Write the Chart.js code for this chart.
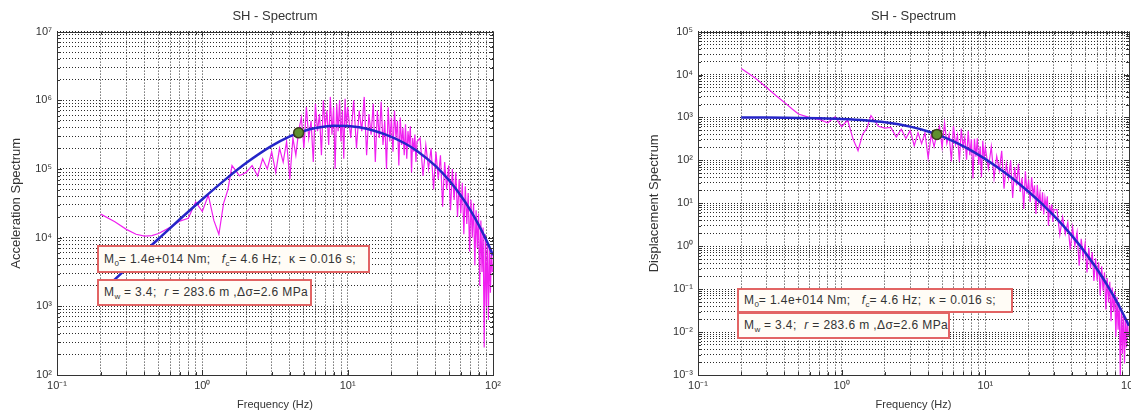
<!DOCTYPE html>
<html>
<head>
<meta charset="utf-8">
<title>SH - Spectrum</title>
<script src="https://cdn.jsdelivr.net/npm/chart.js@4/dist/chart.umd.min.js"></script>
<style>
  html, body { margin: 0; padding: 0; background: #fff; overflow: hidden; width: 1131px; height: 414px; }
  canvas { position: absolute; top: 0; }
  #acc-chart { left: 0; }
  #disp-chart { left: 565px; }
  .note {
    position: absolute;
    box-sizing: border-box;
    background: #fffcf6;
    border: 2px solid #e26464;
    font-family: "Liberation Sans", Arial, sans-serif;
    font-size: 12px;
    letter-spacing: 0.4px;
    color: #333;
    padding-left: 5px;
    white-space: nowrap;
    z-index: 2;
  }
  .note sub { font-size: 8px; letter-spacing: 0; }
</style>
</head>
<body>
<canvas id="acc-chart" width="565" height="414"></canvas>
<canvas id="disp-chart" width="600" height="414"></canvas>

<div class="note" style="left:97px;top:245px;width:273px;height:28px;line-height:24px;">M<sub>0</sub>= 1.4e+014 Nm;&nbsp;&nbsp; <i>f</i><sub>c</sub>= 4.6 Hz;&nbsp; κ = 0.016 s;</div>
<div class="note" style="left:97px;top:279px;width:215px;height:27px;line-height:23px;">M<sub>w</sub> = 3.4;&nbsp; <i>r</i> = 283.6 m ,Δσ=2.6 MPa</div>
<div class="note" style="left:737px;top:288px;width:276px;height:25px;line-height:21px;">M<sub>0</sub>= 1.4e+014 Nm;&nbsp;&nbsp; <i>f</i><sub>c</sub>= 4.6 Hz;&nbsp; κ = 0.016 s;</div>
<div class="note" style="left:737px;top:312px;width:213px;height:27px;line-height:23px;">M<sub>w</sub> = 3.4;&nbsp; <i>r</i> = 283.6 m ,Δσ=2.6 MPa</div>

<script>
// observed SH spectrum (Hz)
const obsFreq = [0.2, 0.25, 0.3, 0.35, 0.4, 0.45, 0.5, 0.6, 0.7, 0.8, 0.9, 1.0, 1.1, 1.2, 1.3, 1.4, 1.5, 1.6, 1.8, 2.0,
  2.2, 2.4, 2.6, 2.8, 3.0, 3.2, 3.4, 3.6, 3.8, 4.0, 4.2, 4.4, 4.6,
  4.8, 5.0, 5.2, 5.4, 5.6, 5.8, 6.0, 6.2, 6.4, 6.6, 6.8, 7.0, 7.2, 7.4, 7.6, 7.8, 8.0, 8.2, 8.4, 8.6, 8.8, 9.0, 9.2, 9.4, 9.6, 9.8, 10,
  10.5, 11, 11.5, 12, 12.5, 13, 13.5, 14, 14.5, 15, 15.5, 16, 16.5, 17, 17.5, 18, 18.5, 19, 19.5, 20,
  20.5, 21, 21.5, 22, 22.5, 23, 23.5, 24, 24.5, 25, 25.5, 26, 26.5, 27, 27.5, 28, 28.5, 29, 29.5, 30,
  31.5, 33, 34.5, 36, 37.5, 39, 40.5, 42, 43.5, 45, 46.5, 48, 49.5, 51, 52.5, 54, 55.5, 57, 58.5, 60,
  61.5, 63, 64.5, 66, 67.5, 69, 70.5, 72, 73.5, 75, 76.5, 78, 79.5, 81, 82.5, 84, 85.5, 87, 88.5, 90,
  91.5, 93, 94.5, 96, 97.5, 99];

const accObs = [2.2e4, 1.7e4, 1.32e4, 1.12e4, 1.05e4, 1.07e4, 1.15e4, 1.41e4, 1.74e4, 1.91e4,
  3.31e4, 2.4e4, 4.17e4, 1.78e4, 1.12e4, 3.16e4, 5.01e4, 1.12e5, 7.94e4, 8.91e4,
  1.12e5, 7.94e4, 1.41e5, 1.0e5, 1.78e5, 8.91e4, 2.0e5, 1.26e5, 2.51e5, 7.08e4, 2.82e5, 1.58e5, 3.55e5,
  5.62e5, 2.0e5, 7.94e5, 2.82e5, 5.01e5, 1.26e5, 8.91e5, 3.55e5, 6.31e5, 1.58e5, 1.0e6, 3.98e5, 7.08e5, 2.24e5,
  1.12e6, 3.16e5, 7.94e5, 1.0e5, 8.91e5, 3.55e5, 1.0e6, 2.51e5, 7.08e5, 1.41e5, 1.05e6, 3.98e5, 7.94e5,
  2.82e5, 1.0e6, 2.0e5, 7.08e5, 3.55e5, 1.12e6, 1.58e5, 6.31e5, 3.16e5, 8.91e5, 1.26e5, 7.08e5, 2.82e5, 9.55e5,
  2.24e5, 5.01e5, 1.0e5, 7.94e5, 2.51e5, 5.62e5, 1.78e5, 7.08e5, 2.82e5, 5.01e5, 1.12e5, 5.62e5, 2.24e5, 3.98e5,
  1.58e5, 4.47e5, 1.41e5, 3.55e5, 2.24e5, 4.17e5, 8.91e4, 2.82e5, 1.78e5, 3.16e5, 1.26e5, 2.51e5,
  2.82e5, 7.94e4, 2.24e5, 1.0e5, 2.0e5, 5.01e4, 1.78e5, 7.08e4, 1.58e5, 2.82e4,
  1.26e5, 5.01e4, 1.12e5, 2.51e4, 1.0e5, 3.55e4, 8.91e4, 2.0e4, 7.08e4, 2.24e4,
  6.31e4, 1.12e4, 5.62e4, 1.58e4, 4.47e4, 6.31e3, 3.55e4, 1.0e4, 3.16e4, 3.98e3,
  2.51e4, 7.08e3, 2.24e4, 2.0e3, 1.78e4, 3.16e3, 1.41e4, 251, 1.12e4, 1.0e3,
  8.91e3, 631, 7.94e3, 1.58e3, 7.08e3, 3.16e3];

const dispObs = [1.39e4, 8.3e3, 5.0e3, 3.2e3, 2.24e3, 1.6e3, 1.2e3, 990, 900, 750,
  1030, 610, 870, 313, 168, 408, 564, 1110, 621, 565,
  587, 349, 530, 323, 500, 220, 438, 246, 441, 112, 405, 207, 425,
  618, 202, 745, 245, 405, 94.8, 627, 234, 390, 92.3, 548, 206, 346, 104,
  492, 132, 314, 37.7, 320, 122, 327, 78.5, 212, 40.5, 288, 105, 201,
  64.7, 209, 38.2, 124, 57.5, 168, 22.0, 81.5, 38.1, 100, 13.3, 70.0, 26.2, 83.8,
  18.5, 39.2, 7.40, 55.7, 16.7, 35.6, 10.7, 40.6, 15.5, 26.2, 5.61, 26.9, 10.3, 17.5,
  6.68, 18.1, 5.50, 13.3, 8.07, 14.5, 2.99, 9.10, 5.55, 9.53, 3.66, 7.06,
  7.19, 1.85, 4.76, 1.95, 3.60, 0.834, 2.75, 1.02, 2.12, 0.352,
  1.48, 0.551, 1.16, 0.244, 0.918, 0.308, 0.733, 0.156, 0.524, 0.157,
  0.423, 0.0716, 0.342, 0.0923, 0.248, 0.0336, 0.181, 0.0489, 0.148, 0.0179,
  0.109, 0.0294, 0.0897, 0.00769, 0.0662, 0.0114, 0.0490, 0.00084, 0.0363, 0.00313,
  0.0270, 0.00185, 0.0225, 0.00436, 0.0189, 0.00817];

// Brune model fit
const modelFreq = [0.2, 0.3, 0.4, 0.5, 0.7, 1, 1.5, 2, 3, 4, 4.6, 5, 6, 7, 8, 10, 12, 15, 20, 25, 30, 40, 50, 60, 70, 80, 90, 100];
const accModel = [1.58e3, 3.53e3, 6.23e3, 9.64e3, 1.85e4, 3.63e4, 7.54e4, 1.22e5, 2.17e5, 2.98e5, 3.36e5, 3.57e5, 3.94e5, 4.16e5,
  4.25e5, 4.23e5, 4.04e5, 3.64e5, 2.94e5, 2.33e5, 1.83e5, 1.12e5, 6.80e4, 4.12e4, 2.50e4, 1.51e4, 9.16e3, 5.54e3];
const dispModel = [1001, 994, 985, 976, 956, 920, 849, 771, 611, 472, 402, 361, 277, 215,
  168, 107, 71.0, 41.0, 18.6, 9.44, 5.15, 1.77, 0.689, 0.290, 0.129, 0.0599, 0.0286, 0.0140];

// corner frequency marker
const cornerFreq = [4.6];
const accCorner = [3.36e5];
const dispCorner = [402];

const FONT = '"Liberation Sans", Arial, sans-serif';
const SUP = { '-': '⁻', '0': '⁰', '1': '¹', '2': '²', '3': '³', '4': '⁴', '5': '⁵', '6': '⁶', '7': '⁷', '8': '⁸', '9': '⁹' };

function powLabel(v) {
  const e = Math.log10(v);
  const r = Math.round(e);
  if (Math.abs(e - r) > 1e-6) return '';
  return '10' + String(r).split('').map(c => SUP[c]).join('');
}

// 1..9 x 10^n, like a matlab log grid
function logGrid(lo, hi) {
  const out = [];
  for (let e = lo; e < hi; e++) {
    for (let m = 1; m < 10; m++) out.push(m * Math.pow(10, e));
  }
  out.push(Math.pow(10, hi));
  return out;
}

const pts = (xs, ys) => xs.map((x, i) => ({ x: x, y: ys[i] }));

// axes box with inward tick marks
const boxPlugin = {
  id: 'box',
  afterDatasetsDraw(chart) {
    const { ctx, chartArea: a, scales } = chart;
    ctx.save();
    ctx.strokeStyle = '#333';
    ctx.lineWidth = 1;
    ctx.beginPath();
    scales.x.ticks.forEach(t => {
      const px = Math.round(scales.x.getPixelForValue(t.value)) + 0.5;
      const len = powLabel(t.value) ? 5 : 3;
      ctx.moveTo(px, a.bottom); ctx.lineTo(px, a.bottom - len);
      ctx.moveTo(px, a.top); ctx.lineTo(px, a.top + len);
    });
    scales.y.ticks.forEach(t => {
      const py = Math.round(scales.y.getPixelForValue(t.value)) + 0.5;
      const len = powLabel(t.value) ? 5 : 3;
      ctx.moveTo(a.left, py); ctx.lineTo(a.left + len, py);
      ctx.moveTo(a.right, py); ctx.lineTo(a.right - len, py);
    });
    ctx.stroke();
    ctx.strokeRect(Math.round(a.left) + 0.5, Math.round(a.top) + 0.5, Math.round(a.right - a.left), Math.round(a.bottom - a.top));
    ctx.restore();
  }
};

function makeChart(id, cfg) {
  const gridLine = { color: 'rgba(20,20,20,0.9)', lineWidth: 1, drawTicks: false, tickLength: 0 };
  const tickFont = { family: FONT, size: 11 };
  new Chart(document.getElementById(id).getContext('2d'), {
    type: 'scatter',
    data: {
      datasets: [
        {
          data: pts(cornerFreq, cfg.corner),
          pointStyle: 'circle', pointRadius: 5,
          backgroundColor: '#5f8f2f', borderColor: '#3b3b1e', borderWidth: 1.5,
          showLine: false
        },
        {
          data: pts(modelFreq, cfg.model),
          showLine: true, borderColor: '#2525c8', borderWidth: 2.5,
          pointRadius: 0, tension: 0.4, cubicInterpolationMode: 'monotone'
        },
        {
          data: pts(obsFreq, cfg.obs),
          showLine: true, borderColor: '#f020f0', borderWidth: 1.2,
          pointRadius: 0, tension: 0
        }
      ]
    },
    options: {
      responsive: false,
      animation: false,
      devicePixelRatio: 1,
      layout: { padding: { left: cfg.padLeft, right: cfg.padRight, top: 0, bottom: 0 } },
      plugins: {
        legend: { display: false },
        tooltip: { enabled: false },
        title: {
          display: true, text: 'SH - Spectrum', fullSize: false, color: '#333',
          font: { family: FONT, size: 13, weight: 'normal' },
          padding: { top: 9, bottom: 7 }
        }
      },
      scales: {
        x: {
          type: 'logarithmic', position: 'bottom', min: 0.1, max: 100,
          afterBuildTicks(s) { s.ticks = logGrid(-1, 2).map(v => ({ value: v })); },
          afterFit(s) { s.height = 39; s.paddingLeft = 0; s.paddingRight = 0; },
          grid: gridLine,
          border: { display: false, dash: [1, 2] },
          ticks: { autoSkip: false, maxRotation: 0, padding: 4, color: '#333', font: tickFont, callback: v => powLabel(v) },
          title: { display: true, text: 'Frequency (Hz)', color: '#333', font: { family: FONT, size: 11 }, padding: { top: 0, bottom: 2 } }
        },
        y: {
          type: 'logarithmic', position: 'left', min: cfg.yMin, max: cfg.yMax,
          afterBuildTicks(s) { s.ticks = logGrid(cfg.yLo, cfg.yHi).map(v => ({ value: v })); },
          afterFit(s) { s.width = cfg.yWidth; s.paddingTop = 0; s.paddingBottom = 0; },
          grid: gridLine,
          border: { display: false, dash: [1, 2] },
          ticks: { autoSkip: false, padding: 5, color: '#333', font: tickFont, callback: v => powLabel(v) },
          title: { display: true, text: cfg.yTitle, color: '#333', font: { family: FONT, size: 13 }, padding: { top: 9, bottom: 0 } }
        }
      }
    },
    plugins: [boxPlugin]
  });
}

makeChart('acc-chart', {
  obs: accObs, model: accModel, corner: accCorner,
  yMin: 1e2, yMax: 1e7, yLo: 2, yHi: 7, yWidth: 57,
  padLeft: 0, padRight: 72, yTitle: 'Acceleration Spectrum'
});

makeChart('disp-chart', {
  obs: dispObs, model: dispModel, corner: dispCorner,
  yMin: 1e-3, yMax: 1e5, yLo: -3, yHi: 5, yWidth: 60,
  padLeft: 73, padRight: 36, yTitle: 'Displacement Spectrum'
});
</script>
</body>
</html>
